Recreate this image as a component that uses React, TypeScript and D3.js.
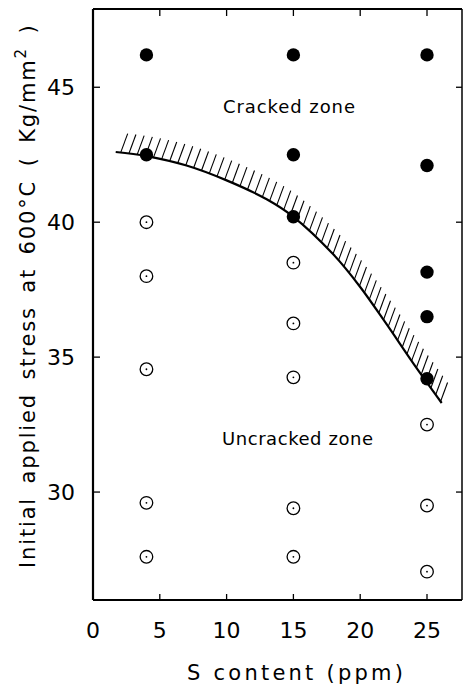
import React, { useEffect, useRef } from "react";
import * as d3 from "d3";

const xTicks = [0, 5, 10, 15, 20, 25];
const yTicks = [30, 35, 40, 45];

// Cracked specimens (filled circles)
const crackedX = [4, 4, 15, 15, 15, 25, 25, 25, 25, 25];
const crackedY = [46.2, 42.5, 46.2, 42.5, 40.2, 46.2, 42.1, 38.15, 36.5, 34.2];

// Uncracked specimens (open circles)
const uncrackedX = [4, 4, 4, 4, 4, 15, 15, 15, 15, 15, 25, 25, 25];
const uncrackedY = [40.0, 38.0, 34.55, 29.6, 27.6, 38.5, 36.25, 34.25, 29.4, 27.6, 32.5, 29.5, 27.05];

// Boundary curve
const boundaryX = [1.7, 4, 7, 10, 13, 15, 18, 20, 22, 24, 26.1];
const boundaryY = [42.6, 42.45, 42.1, 41.55, 40.85, 40.2, 38.8, 37.6, 36.2, 34.75, 33.3];

const W = 464;
const H = 691;
const L = 93, R = 462, T = 9, B = 600;
const FONT = "'DejaVu Sans', sans-serif";

export default function App() {
  const ref = useRef<SVGSVGElement | null>(null);

  useEffect(() => {
    const svg = d3.select(ref.current);
    svg.selectAll("*").remove();

    const x = d3.scaleLinear().domain([0, (R - L) / 13.36]).range([L, R]);
    const y = d3.scaleLinear().domain([26, 47.9]).range([B, T]);

    const g = svg.append("g");

    // frame
    g.append("line").attr("x1", L).attr("x2", L).attr("y1", T).attr("y2", B).attr("stroke", "#000").attr("stroke-width", 2.2);
    g.append("line").attr("x1", L).attr("x2", R).attr("y1", B).attr("y2", B).attr("stroke", "#000").attr("stroke-width", 2.2);
    g.append("line").attr("x1", L).attr("x2", R).attr("y1", T).attr("y2", T).attr("stroke", "#000").attr("stroke-width", 1.8);
    g.append("line").attr("x1", R).attr("x2", R).attr("y1", T).attr("y2", B).attr("stroke", "#000").attr("stroke-width", 1.5);

    // ticks
    xTicks.filter((t) => t > 0).forEach((t) => {
      g.append("line").attr("x1", x(t)).attr("x2", x(t)).attr("y1", B).attr("y2", B - 6).attr("stroke", "#000").attr("stroke-width", 1.3);
      g.append("line").attr("x1", x(t)).attr("x2", x(t)).attr("y1", T).attr("y2", T + 7).attr("stroke", "#000").attr("stroke-width", 1.3);
    });
    yTicks.forEach((t) => {
      g.append("line").attr("x1", L).attr("x2", L + 7).attr("y1", y(t)).attr("y2", y(t)).attr("stroke", "#000").attr("stroke-width", 1.3);
      g.append("line").attr("x1", R).attr("x2", R - 6).attr("y1", y(t)).attr("y2", y(t)).attr("stroke", "#000").attr("stroke-width", 1.3);
    });

    // tick labels
    xTicks.forEach((t) => {
      g.append("text").attr("x", x(t)).attr("y", 638).attr("text-anchor", "middle")
        .attr("font-family", FONT).attr("font-size", 22).text(String(t));
    });
    yTicks.forEach((t) => {
      g.append("text").attr("x", 75).attr("y", y(t) + 8).attr("text-anchor", "end")
        .attr("font-family", FONT).attr("font-size", 22).text(String(t));
    });

    // axis titles
    g.append("text").attr("x", 187).attr("y", 680).attr("font-family", FONT).attr("font-size", 21)
      .attr("textLength", 216).attr("lengthAdjust", "spacing").text("S content (ppm)");

    const yt = g.append("text").attr("transform", "translate(35,568) rotate(-90)")
      .attr("font-family", FONT).attr("font-size", 21).attr("letter-spacing", 1.85).attr("word-spacing", 5);
    yt.append("tspan").text("Initial applied stress at 600°C  ( Kg/mm");
    yt.append("tspan").attr("font-size", 15).attr("dy", -9).text("2");
    yt.append("tspan").attr("dy", 9).text(" )");

    // zone labels
    g.append("text").attr("x", 223).attr("y", 113).attr("font-family", FONT).attr("font-size", 18)
      .attr("textLength", 132).attr("lengthAdjust", "spacing").text("Cracked zone");
    g.append("text").attr("x", 222).attr("y", 445).attr("font-family", FONT).attr("font-size", 18)
      .attr("textLength", 151).attr("lengthAdjust", "spacing").text("Uncracked  zone");

    // boundary curve
    const pts: [number, number][] = boundaryX.map((v, i) => [x(v), y(boundaryY[i])]);
    const line = d3.line().curve(d3.curveCatmullRom.alpha(0.5));
    const path = g.append("path").attr("d", line(pts) as string).attr("fill", "none")
      .attr("stroke", "#000").attr("stroke-width", 2.2);

    // hatching
    const node = path.node() as SVGPathElement;
    const len = node.getTotalLength();
    for (let s = 5; s <= len + 4; s += 8.3) {
      const p = node.getPointAtLength(Math.min(s, len));
      const ex = s > len ? s - len : 0;
      g.append("line").attr("x1", p.x + ex * 0.5).attr("y1", p.y + ex * 0.8).attr("x2", p.x + ex * 0.5 + 7).attr("y2", p.y + ex * 0.8 - 19)
        .attr("stroke", "#000").attr("stroke-width", 1.1);
    }

    // open circles
    uncrackedX.forEach((v, i) => {
      g.append("circle").attr("cx", x(v)).attr("cy", y(uncrackedY[i])).attr("r", 6.3)
        .attr("fill", "#fff").attr("stroke", "#000").attr("stroke-width", 1.3);
      g.append("circle").attr("cx", x(v)).attr("cy", y(uncrackedY[i])).attr("r", 0.9).attr("fill", "#000");
    });

    // filled circles
    crackedX.forEach((v, i) => {
      g.append("circle").attr("cx", x(v)).attr("cy", y(crackedY[i])).attr("r", 6.7).attr("fill", "#000");
    });
  }, []);

  return (
    <svg ref={ref} width={W} height={H} style={{ position: "absolute", left: 0, top: 0, background: "#fff" }} />
  );
}
